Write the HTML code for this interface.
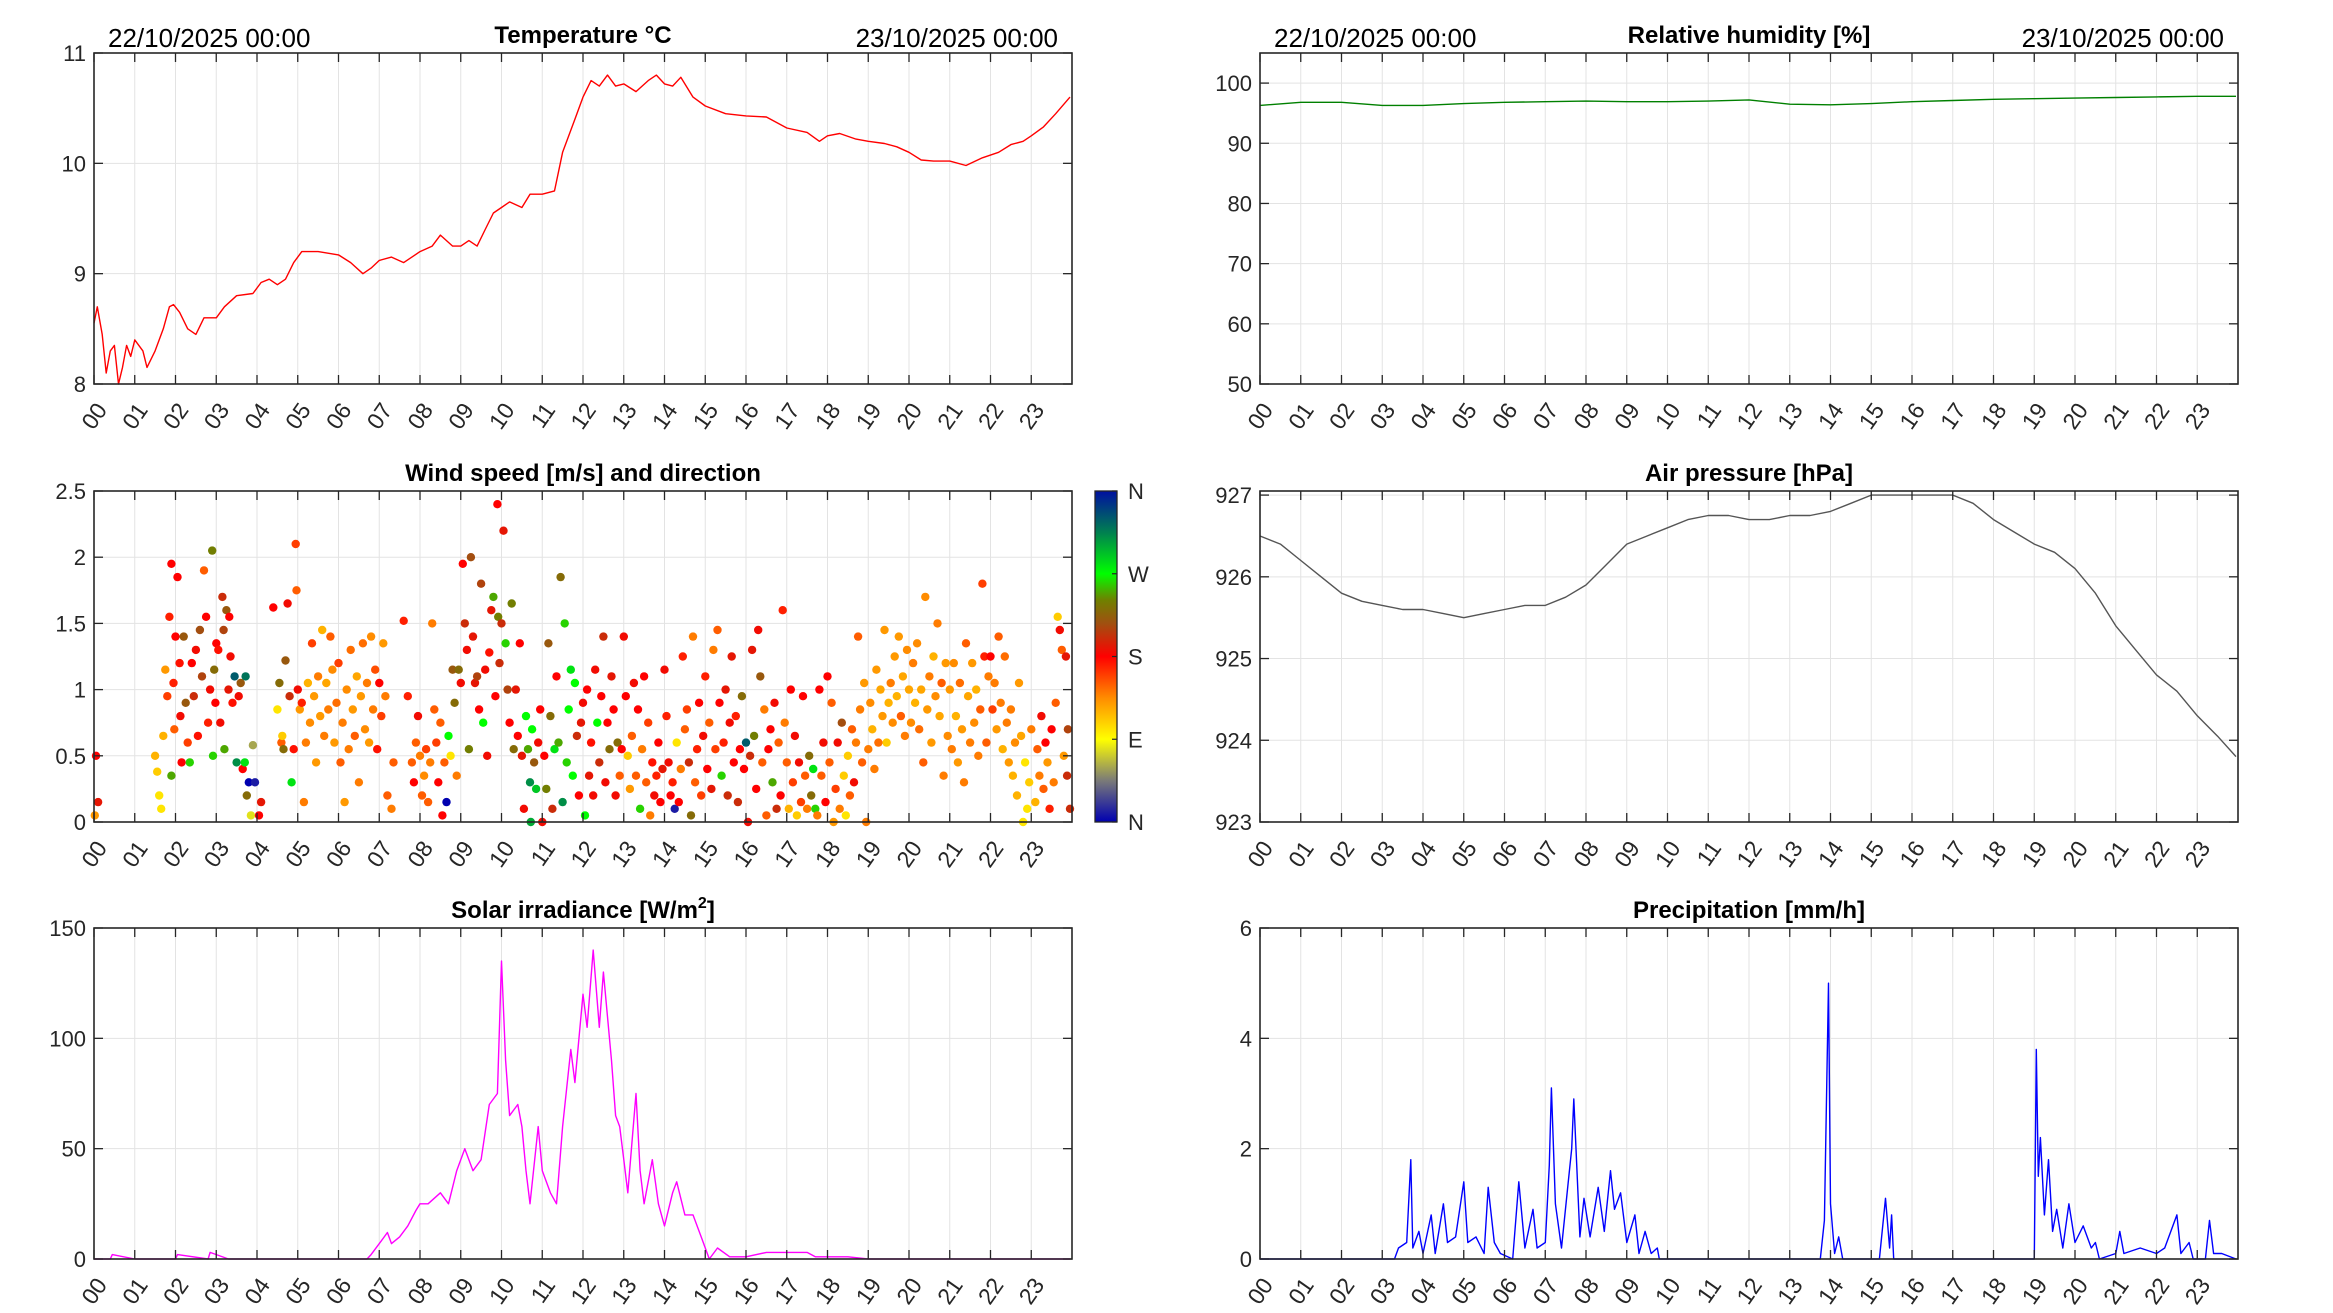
<!DOCTYPE html>
<html><head><meta charset="utf-8">
<style>
html,body{margin:0;padding:0;background:#fff;}
svg{display:block;font-family:"Liberation Sans",Arial,sans-serif;}
</style></head>
<body>
<svg id="fig" width="2333" height="1313" viewBox="0 0 2333 1313" xmlns="http://www.w3.org/2000/svg">
<defs>
<linearGradient id="dirGrad" x1="0" y1="1" x2="0" y2="0">
<stop offset="0" stop-color="#0000b0"/>
<stop offset="0.125" stop-color="#7a7a78"/>
<stop offset="0.25" stop-color="#ffff00"/>
<stop offset="0.375" stop-color="#ff8c00"/>
<stop offset="0.5" stop-color="#ff0000"/>
<stop offset="0.6" stop-color="#a05010"/>
<stop offset="0.67" stop-color="#708000"/>
<stop offset="0.75" stop-color="#00ff00"/>
<stop offset="0.875" stop-color="#008050"/>
<stop offset="1" stop-color="#0010a0"/>
</linearGradient>
</defs>
</svg>
<script>
// ---------- data ----------
const hourTicks = [0,1,2,3,4,5,6,7,8,9,10,11,12,13,14,15,16,17,18,19,20,21,22,23];
const hourLabels = ["00","01","02","03","04","05","06","07","08","09","10","11","12","13","14","15","16","17","18","19","20","21","22","23"];

const tempT = [0,0.08,0.2,0.3,0.4,0.5,0.6,0.7,0.8,0.9,1.0,1.2,1.3,1.5,1.7,1.85,1.95,2.1,2.3,2.5,2.7,3.0,3.2,3.5,3.9,4.1,4.3,4.5,4.7,4.9,5.1,5.5,6.0,6.3,6.6,6.8,7.0,7.3,7.6,7.8,8.0,8.3,8.5,8.8,9.0,9.2,9.4,9.6,9.8,10.0,10.2,10.5,10.7,11.0,11.3,11.5,11.6,11.8,12.0,12.2,12.4,12.6,12.8,13.0,13.3,13.6,13.8,14.0,14.2,14.4,14.7,15.0,15.5,16.0,16.5,17.0,17.5,17.8,18.0,18.3,18.7,19.0,19.4,19.7,20.0,20.3,20.6,21.0,21.4,21.8,22.2,22.5,22.8,23.0,23.3,23.6,23.95];
const tempV = [8.55,8.7,8.45,8.1,8.3,8.35,8.0,8.15,8.35,8.25,8.4,8.3,8.15,8.3,8.5,8.7,8.72,8.65,8.5,8.45,8.6,8.6,8.7,8.8,8.82,8.92,8.95,8.9,8.95,9.1,9.2,9.2,9.17,9.1,9.0,9.05,9.12,9.15,9.1,9.15,9.2,9.25,9.35,9.25,9.25,9.3,9.25,9.4,9.55,9.6,9.65,9.6,9.72,9.72,9.75,10.1,10.2,10.4,10.6,10.75,10.7,10.8,10.7,10.72,10.65,10.75,10.8,10.72,10.7,10.78,10.6,10.52,10.45,10.43,10.42,10.32,10.28,10.2,10.25,10.27,10.22,10.2,10.18,10.15,10.1,10.03,10.02,10.02,9.98,10.05,10.1,10.17,10.2,10.25,10.33,10.45,10.6];
const tempTicks = [8,9,10,11];

const humT = [0,1,2,3,4,5,6,7,8,9,10,11,12,13,14,15,16,17,18,19,20,21,22,23,23.95];
const humV = [96.3,96.8,96.8,96.3,96.3,96.6,96.8,96.9,97.0,96.9,96.9,97.0,97.2,96.5,96.4,96.6,96.9,97.1,97.3,97.4,97.5,97.6,97.7,97.8,97.8];
const humTicks = [50,60,70,80,90,100];

const presT = [0,0.5,1,1.5,2,2.5,3,3.5,4,4.5,5,5.5,6,6.5,7,7.5,8,8.5,9,9.5,10,10.5,11,11.5,12,12.5,13,13.5,14,14.5,15,15.5,16,16.5,17,17.5,18,18.5,19,19.5,20,20.5,21,21.5,22,22.5,23,23.5,23.95];
const presV = [926.5,926.4,926.2,926.0,925.8,925.7,925.65,925.6,925.6,925.55,925.5,925.55,925.6,925.65,925.65,925.75,925.9,926.15,926.4,926.5,926.6,926.7,926.75,926.75,926.7,926.7,926.75,926.75,926.8,926.9,927.0,927.0,927.0,927.0,927.0,926.9,926.7,926.55,926.4,926.3,926.1,925.8,925.4,925.1,924.8,924.6,924.3,924.05,923.8];
const presTicks = [923,924,925,926,927];

const solT = [0,0.4,0.45,1.0,2.0,2.05,2.8,2.85,3.3,3.35,6.7,6.8,7.0,7.2,7.3,7.5,7.7,7.9,8.0,8.2,8.5,8.7,8.9,9.1,9.3,9.5,9.7,9.9,10.0,10.1,10.2,10.4,10.5,10.6,10.7,10.9,11.0,11.2,11.35,11.5,11.7,11.8,12.0,12.1,12.25,12.4,12.5,12.7,12.8,12.9,13.0,13.1,13.3,13.4,13.5,13.7,13.85,14.0,14.2,14.3,14.5,14.7,14.9,15.1,15.3,15.6,16.0,16.5,17.0,17.5,17.7,18.0,18.5,19.0,23.95];
const solV = [0,0,2,0,0,2,0,3,0,0,0,2,7,12,7,10,15,22,25,25,30,25,40,50,40,45,70,75,135,90,65,70,60,40,25,60,40,30,25,60,95,80,120,105,140,105,130,90,65,60,45,30,75,40,25,45,25,15,30,35,20,20,10,0,5,1,1,3,3,3,1,1,1,0,0];
const solTicks = [0,50,100,150];

const precT = [0,3.3,3.4,3.6,3.7,3.75,3.9,4.0,4.2,4.3,4.5,4.6,4.8,5.0,5.1,5.3,5.5,5.6,5.75,5.9,6.2,6.35,6.5,6.7,6.8,7.0,7.1,7.15,7.25,7.4,7.55,7.65,7.7,7.85,7.95,8.1,8.3,8.45,8.6,8.7,8.85,9.0,9.2,9.3,9.45,9.6,9.75,9.8,13.75,13.85,13.95,14.0,14.1,14.2,14.3,15.2,15.35,15.45,15.5,15.55,19.0,19.05,19.1,19.15,19.25,19.35,19.45,19.55,19.7,19.85,20.0,20.2,20.4,20.5,20.6,21.0,21.1,21.2,21.6,22.0,22.2,22.5,22.6,22.8,22.9,23.2,23.3,23.4,23.6,23.95];
const precV = [0,0,0.2,0.3,1.8,0.2,0.5,0.1,0.8,0.1,1.0,0.3,0.4,1.4,0.3,0.4,0.1,1.3,0.3,0.1,0,1.4,0.2,0.9,0.2,0.3,1.7,3.1,1.0,0.2,1.3,2.0,2.9,0.4,1.1,0.4,1.3,0.5,1.6,0.9,1.2,0.3,0.8,0.1,0.5,0.1,0.2,0,0,0.7,5.0,1.0,0.1,0.4,0,0,1.1,0.2,0.8,0,0,3.8,1.5,2.2,0.8,1.8,0.5,0.9,0.2,1.0,0.3,0.6,0.2,0.3,0,0.1,0.5,0.1,0.2,0.1,0.2,0.8,0.1,0.3,0,0,0.7,0.1,0.1,0];
const precTicks = [0,2,4,6];

const windT = [0.05,0.1,0.02,1.5,1.55,1.6,1.65,1.7,1.75,1.8,1.85,1.9,1.95,1.97,1.9,
2.0,2.05,2.1,2.12,2.15,2.2,2.25,2.3,2.35,2.4,2.45,2.5,2.55,2.6,2.65,2.7,2.75,2.8,2.85,2.9,2.92,2.95,2.98,
3.0,3.05,3.1,3.15,3.18,3.2,3.25,3.3,3.32,3.35,3.4,3.45,3.5,3.55,3.6,3.65,3.7,3.72,3.75,3.8,3.85,3.9,3.95,
4.05,4.1,4.4,4.5,4.55,4.6,4.62,4.65,4.7,4.75,4.8,4.85,4.9,4.95,4.97,
5.0,5.05,5.1,5.15,5.2,5.25,5.3,5.35,5.4,5.45,5.5,5.55,5.6,5.65,5.7,5.75,5.8,5.85,5.9,5.95,
6.0,6.05,6.1,6.15,6.2,6.25,6.3,6.35,6.4,6.45,6.5,6.55,6.6,6.65,6.7,6.75,6.8,6.85,6.9,6.95,
7.0,7.05,7.1,7.15,7.2,7.3,7.35,7.6,7.7,7.8,7.85,7.9,7.95,
8.0,8.05,8.1,8.15,8.2,8.25,8.3,8.35,8.4,8.45,8.5,8.55,8.6,8.65,8.7,8.75,8.8,8.85,8.9,8.95,
9.0,9.05,9.1,9.15,9.2,9.25,9.3,9.35,9.4,9.45,9.5,9.55,9.6,9.65,9.7,9.75,9.8,9.85,9.9,9.92,9.95,
10.0,10.05,10.1,10.15,10.2,10.25,10.3,10.35,10.4,10.45,10.5,10.55,10.6,10.65,10.7,10.72,10.75,10.8,10.85,10.9,10.95,
11.0,11.05,11.1,11.15,11.2,11.25,11.3,11.35,11.4,11.45,11.5,11.55,11.6,11.65,11.7,11.75,11.8,11.85,11.9,11.95,
12.0,12.05,12.1,12.15,12.2,12.25,12.3,12.35,12.4,12.45,12.5,12.55,12.6,12.65,12.7,12.75,12.8,12.85,12.9,12.95,
13.0,13.05,13.1,13.15,13.2,13.25,13.3,13.35,13.4,13.45,13.5,13.55,13.6,13.65,13.7,13.75,13.8,13.85,13.9,13.95,
14.0,14.05,14.1,14.15,14.2,14.25,14.3,14.35,14.4,14.45,14.5,14.55,14.6,14.65,14.7,14.75,14.8,14.85,14.9,14.95,
15.0,15.05,15.1,15.15,15.2,15.25,15.3,15.35,15.4,15.45,15.5,15.55,15.6,15.65,15.7,15.75,15.8,15.85,15.9,15.95,
16.0,16.05,16.1,16.15,16.2,16.25,16.3,16.35,16.4,16.45,16.5,16.55,16.6,16.65,16.7,16.75,16.8,16.85,16.9,16.95,
17.0,17.05,17.1,17.15,17.2,17.25,17.3,17.35,17.4,17.45,17.5,17.55,17.6,17.65,17.7,17.75,17.8,17.85,17.9,17.95,
18.0,18.05,18.1,18.15,18.2,18.25,18.3,18.35,18.4,18.45,18.5,18.55,18.6,18.65,18.7,18.75,18.8,18.85,18.9,18.95,
19.0,19.05,19.1,19.15,19.2,19.25,19.3,19.35,19.4,19.45,19.5,19.55,19.6,19.65,19.7,19.75,19.8,19.85,19.9,19.95,
20.0,20.05,20.1,20.15,20.2,20.25,20.3,20.35,20.4,20.45,20.5,20.55,20.6,20.65,20.7,20.75,20.8,20.85,20.9,20.95,
21.0,21.05,21.1,21.15,21.2,21.25,21.3,21.35,21.4,21.45,21.5,21.55,21.6,21.65,21.7,21.75,21.8,21.85,21.9,21.95,
22.0,22.05,22.1,22.15,22.2,22.25,22.3,22.35,22.4,22.45,22.5,22.55,22.6,22.65,22.7,22.75,22.8,22.85,22.9,22.95,
23.0,23.1,23.15,23.2,23.25,23.3,23.35,23.4,23.45,23.5,23.55,23.6,23.65,23.7,23.75,23.8,23.85,23.88,23.9,23.95];
const windS = [0.5,0.15,0.05,0.5,0.38,0.2,0.1,0.65,1.15,0.95,1.55,1.95,1.05,0.7,0.35,
1.4,1.85,1.2,0.8,0.45,1.4,0.9,0.6,0.45,1.2,0.95,1.3,0.65,1.45,1.1,1.9,1.55,0.75,1.0,2.05,0.5,1.15,0.9,
1.35,1.3,0.75,1.7,1.45,0.55,1.6,1.0,1.55,1.25,0.9,1.1,0.45,0.95,1.05,0.4,0.45,1.1,0.2,0.3,0.05,0.58,0.3,
0.05,0.15,1.62,0.85,1.05,0.6,0.65,0.55,1.22,1.65,0.95,0.3,0.55,2.1,1.75,
1.0,0.85,0.9,0.15,0.6,1.05,0.75,1.35,0.95,0.45,1.1,0.8,1.45,0.65,1.05,0.85,1.4,1.15,0.6,0.9,
1.2,0.45,0.75,0.15,1.0,0.55,1.3,0.85,0.65,1.1,0.3,0.95,1.35,0.7,1.05,0.6,1.4,0.85,1.15,0.55,
1.05,0.8,1.35,0.95,0.2,0.1,0.45,1.52,0.95,0.45,0.3,0.6,0.8,
0.5,0.2,0.35,0.55,0.15,0.45,1.5,0.85,0.6,0.3,0.75,0.05,0.45,0.15,0.65,0.5,1.15,0.9,0.35,1.15,
1.05,1.95,1.5,1.3,0.55,2.0,1.4,1.05,1.1,0.85,1.8,0.75,1.15,0.5,1.28,1.6,1.7,0.95,2.4,1.55,1.2,
1.5,2.2,1.35,1.0,0.75,1.65,0.55,1.0,0.65,1.35,0.5,0.1,0.8,0.55,0.3,0.0,0.7,0.45,0.25,0.6,0.85,
0.0,0.5,0.25,1.35,0.8,0.1,0.55,1.1,0.6,1.85,0.15,1.5,0.45,0.85,1.15,0.35,1.05,0.65,0.2,0.75,
0.9,0.05,1.0,0.35,0.6,0.2,1.15,0.75,0.45,0.95,1.4,0.3,0.75,0.55,1.1,0.85,0.2,0.6,0.35,0.55,
1.4,0.95,0.5,0.25,0.65,1.05,0.35,0.85,0.1,0.55,1.1,0.3,0.75,0.05,0.45,0.2,0.35,0.6,0.15,0.4,
1.15,0.8,0.45,0.2,0.3,0.1,0.6,0.15,0.4,1.25,0.7,0.85,0.45,0.05,1.4,0.3,0.55,0.9,0.2,0.65,
1.1,0.4,0.75,0.25,1.3,0.55,1.45,0.9,0.35,0.6,1.0,0.2,0.75,1.25,0.45,0.8,0.15,0.55,0.95,0.4,
0.6,0.0,0.5,1.3,0.65,0.25,1.45,1.1,0.45,0.85,0.05,0.55,0.7,0.3,0.9,0.1,0.6,0.2,1.6,0.75,
0.45,0.1,1.0,0.3,0.65,0.05,0.45,0.15,0.95,0.35,0.1,0.5,0.2,0.4,0.1,0.05,1.0,0.35,0.6,0.15,
1.1,0.45,0.9,0.0,0.25,0.6,0.1,0.75,0.35,0.05,0.5,0.2,0.7,0.3,0.6,1.4,0.85,0.45,1.05,0.0,
0.55,0.9,0.7,0.4,1.15,0.6,1.0,0.8,1.45,0.6,0.9,1.05,0.75,1.25,0.95,1.4,0.8,1.1,0.65,1.3,
1.0,0.75,1.2,0.9,1.35,0.7,1.0,0.45,1.7,0.85,1.1,0.6,1.25,0.95,1.5,0.8,1.05,0.35,1.2,0.65,
1.0,0.55,1.2,0.8,0.45,1.05,0.7,0.3,1.35,0.95,0.6,1.2,0.75,1.0,0.5,0.85,1.8,1.25,0.6,1.1,
1.25,0.85,1.05,0.7,1.4,0.9,0.55,1.25,0.75,0.45,0.85,0.35,0.6,0.2,1.05,0.65,0.0,0.45,0.1,0.3,
0.7,0.15,0.55,0.35,0.8,0.25,0.6,0.45,0.1,0.7,0.3,0.9,1.55,1.45,1.3,0.5,1.25,0.35,0.7,0.1];
const windD = [180,190,130,120,110,100,100,120,130,160,170,180,170,150,250,
180,180,175,185,180,220,220,160,260,180,200,185,175,215,210,150,180,170,185,240,260,230,180,
180,175,185,200,210,250,220,190,180,185,175,330,310,185,220,180,280,320,230,0,80,60,10,
180,190,180,100,230,150,110,230,220,185,200,280,175,160,150,
185,130,170,140,140,120,135,160,130,130,140,130,120,140,125,140,150,135,130,145,
160,150,140,130,135,140,145,130,150,125,140,130,145,135,140,130,135,140,155,175,
180,160,130,140,150,140,150,170,170,150,180,150,185,
140,150,135,160,150,140,140,150,160,180,150,180,150,0,270,100,220,230,140,230,
185,180,200,185,240,215,190,190,210,180,210,270,185,185,175,190,250,180,180,240,200,
200,190,260,210,180,240,230,190,180,180,190,185,270,250,310,300,270,220,290,185,180,
185,180,240,220,230,200,280,180,250,230,310,260,260,270,280,270,270,200,180,190,
185,270,180,190,175,185,185,270,200,180,200,185,180,230,190,180,185,230,150,180,
185,180,110,130,150,185,150,180,260,140,180,150,160,140,175,185,170,180,180,190,
185,170,185,180,170,10,100,180,140,170,150,160,200,230,140,150,170,180,160,185,
170,180,150,190,140,160,150,180,260,170,190,200,185,190,180,170,200,180,230,180,
330,185,200,190,240,180,185,220,150,140,150,180,180,250,185,200,150,180,170,140,
150,120,180,160,185,110,185,160,180,150,140,230,230,280,260,140,180,150,185,180,
180,150,150,130,160,185,140,215,110,100,110,150,150,185,140,150,140,150,130,140,
140,135,120,140,130,145,125,130,130,110,120,140,135,130,120,130,150,125,140,135,
125,135,140,120,135,145,125,150,135,130,140,130,120,135,140,125,150,140,130,135,
130,140,135,120,130,145,130,140,150,125,140,130,135,120,140,150,160,170,150,140,
180,160,140,130,150,140,120,145,140,130,140,120,135,120,130,125,100,100,100,110,
140,120,150,140,185,150,180,130,170,180,140,150,110,185,150,130,190,200,210,200];
const dirTicks = [0,90,180,270,360];
const dirLabels = ["N","E","S","W","N"];

// ---------- helpers ----------
const NS = "http://www.w3.org/2000/svg";
const svg = document.getElementById('fig');
function mk(tag, attrs, parent){
  const e = document.createElementNS(NS, tag);
  for (const k in attrs) e.setAttribute(k, attrs[k]);
  (parent||svg).appendChild(e);
  return e;
}
function dirColor(d){
  const stops=[[0,[0,0,176]],[45,[122,122,120]],[90,[255,255,0]],[135,[255,140,0]],[180,[255,0,0]],[216,[160,80,16]],[241,[112,128,0]],[270,[0,255,0]],[315,[0,128,80]],[360,[0,16,160]]];
  d=((d%360)+360)%360;
  for(let i=0;i<stops.length-1;i++){
    const a=stops[i],b=stops[i+1];
    if(d>=a[0]&&d<=b[0]){const f=(d-a[0])/(b[0]-a[0]);
      const c=a[1].map((v,j)=>Math.round(v+(b[1][j]-v)*f));
      return `rgb(${c[0]},${c[1]},${c[2]})`;}
  }
  return 'rgb(0,0,176)';
}

function panel(opt){
  const {name,x0,y0,w,h,ymin,ymax,yticks,title,dates} = opt;
  const g = mk('g',{});
  
  
  const X = t => x0 + t/24*w;
  const Y = v => y0 + h - (v-ymin)/(ymax-ymin)*h;
  const grid = mk('g',{},g);
  
  
  hourTicks.forEach(t=>{ if(t>0) mk('line',{x1:X(t),x2:X(t),y1:y0,y2:y0+h,stroke:'#e3e3e3','stroke-width':1},grid); });
  yticks.forEach(v=>{ mk('line',{x1:x0,x2:x0+w,y1:Y(v),y2:Y(v),stroke:'#e3e3e3','stroke-width':1},grid); });
  const plot = mk('g',{},g);
  
  
  opt.draw(plot,X,Y);
  const box = mk('rect',{x:x0,y:y0,width:w,height:h,fill:'none',stroke:'#262626','stroke-width':1.6},g);
  
  
  const xa = mk('g',{},g);
  
  
  hourTicks.forEach((t,i)=>{
    mk('line',{x1:X(t),x2:X(t),y1:y0+h,y2:y0+h-9,stroke:'#262626','stroke-width':1.3},xa);
    mk('line',{x1:X(t),x2:X(t),y1:y0,y2:y0+9,stroke:'#262626','stroke-width':1.3},xa);
    const tx = mk('text',{x:0,y:0,'font-size':23,fill:'#262626','text-anchor':'end',transform:`translate(${X(t)+14},${y0+h+26}) rotate(-55)`},xa);
    tx.textContent = hourLabels[i];
  });
  const ya = mk('g',{},g);
  
  
  yticks.forEach(v=>{
    mk('line',{x1:x0,x2:x0+9,y1:Y(v),y2:Y(v),stroke:'#262626','stroke-width':1.3},ya);
    if(!opt.noRightTicks) mk('line',{x1:x0+w,x2:x0+w-9,y1:Y(v),y2:Y(v),stroke:'#262626','stroke-width':1.3},ya);
    const tx = mk('text',{x:x0-8,y:Y(v)+8,'font-size':22,fill:'#262626','text-anchor':'end'},ya);
    tx.textContent = String(v);
  });
  const tt = mk('text',{x:x0+w/2,y:y0-10,'font-size':24,'font-weight':'bold',fill:'#000','text-anchor':'middle'},g);
  
  
  if(opt.titleSup){
    tt.textContent = title;
    const s = mk('tspan',{'font-size':16,dy:-10},tt); s.textContent = opt.titleSup;
    const e2 = mk('tspan',{dy:10},tt); e2.textContent = ']';
  } else tt.textContent = title;
  if(dates){
    const d1 = mk('text',{x:x0+14,y:y0-6,'font-size':26,fill:'#000'},g);
    
    
    d1.textContent = '22/10/2025 00:00';
    const d2 = mk('text',{x:x0+w-14,y:y0-6,'font-size':26,fill:'#000','text-anchor':'end'},g);
    
    
    d2.textContent = '23/10/2025 00:00';
  }
  return g;
}
function line(parent,X,Y,ts,vs,color,name){
  const d = ts.map((t,i)=>(i?'L':'M')+X(t).toFixed(1)+','+Y(vs[i]).toFixed(1)).join('');
  const p = mk('path',{d:d,fill:'none',stroke:color,'stroke-width':1.4,'stroke-linejoin':'round'},parent);
  
  
}

const LX = 94, RX = 1260, W = 978, H = 331;
const R1 = 53, R2 = 491, R3 = 928;

panel({name:'temperature-chart',x0:LX,y0:R1,w:W,h:H,ymin:8,ymax:11,yticks:tempTicks,title:'Temperature °C',dates:true,
  draw:(g,X,Y)=>line(g,X,Y,tempT,tempV,'#ff0000','temperature-line')});
panel({name:'humidity-chart',x0:RX,y0:R1,w:W,h:H,ymin:50,ymax:105,yticks:humTicks,title:'Relative humidity [%]',dates:true,
  draw:(g,X,Y)=>line(g,X,Y,humT,humV,'#008000','humidity-line')});
panel({name:'wind-chart',x0:LX,y0:R2,w:W,h:H,ymin:0,ymax:2.5,yticks:[0,0.5,1,1.5,2,2.5],title:'Wind speed [m/s] and direction',
  draw:(g,X,Y)=>{
    windT.forEach((t,i)=>{
      const c = mk('circle',{cx:X(t).toFixed(1),cy:Y(windS[i]).toFixed(1),r:4.2,fill:dirColor(windD[i])},g);
      
      
    });
  }});
panel({name:'pressure-chart',x0:RX,y0:R2,w:W,h:H,ymin:923,ymax:927.05,yticks:presTicks,title:'Air pressure [hPa]',
  draw:(g,X,Y)=>line(g,X,Y,presT,presV,'#555555','pressure-line')});
panel({name:'solar-chart',x0:LX,y0:R3,w:W,h:H,ymin:0,ymax:150,yticks:solTicks,title:'Solar irradiance [W/m',titleSup:'2',
  draw:(g,X,Y)=>line(g,X,Y,solT,solV,'#ff00ff','solar-line')});
panel({name:'precipitation-chart',x0:RX,y0:R3,w:W,h:H,ymin:0,ymax:6,yticks:precTicks,title:'Precipitation [mm/h]',
  draw:(g,X,Y)=>line(g,X,Y,precT,precV,'#0000ff','precipitation-line')});

const cb = mk('g',{});


const cbx=1095, cby=491, cbw=22, cbh=331;
mk('rect',{x:cbx,y:cby,width:cbw,height:cbh,fill:'url(#dirGrad)',stroke:'#262626','stroke-width':1.3},cb);
dirTicks.forEach((d,i)=>{
  const y = cby+cbh-d/360*cbh;
  mk('line',{x1:cbx+cbw-5,x2:cbx+cbw,y1:y,y2:y,stroke:'#262626','stroke-width':1.2},cb);
  const t = mk('text',{x:cbx+cbw+11,y:y+8,'font-size':22,fill:'#262626'},cb);
  
  
  t.textContent = dirLabels[i];
});
</script>
</body></html>
